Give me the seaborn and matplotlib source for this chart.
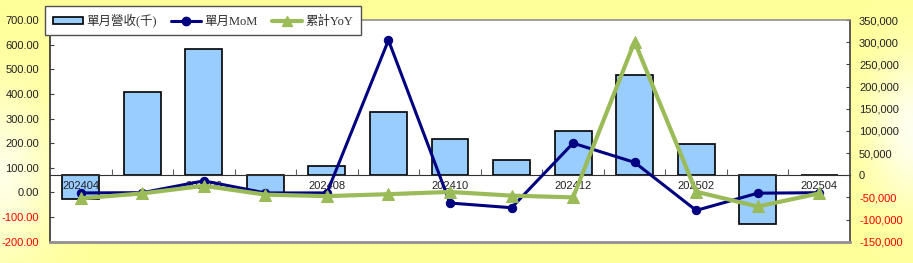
import numpy as np
import pandas as pd
import matplotlib
matplotlib.use("Agg")
import matplotlib.pyplot as plt
import seaborn as sns
from matplotlib.lines import Line2D
from matplotlib.patches import Patch
from matplotlib.ticker import FixedLocator, FixedFormatter, NullFormatter

# ---------------- data ----------------
months = ["202404", "202405", "202406", "202407", "202408", "202409", "202410",
          "202411", "202412", "202501", "202502", "202503", "202504"]
revenue = [-54000, 188000, 284500, -41000, 19600, 143500, 81000,
           33800, 100000, 226000, 69800, -111000, 0]
mom = [-2, -1, 47, -2, -2, 618, -43, -62, 200, 122, -73, -3, -1]
yoy = [-24, -4, 27, -9, -15, -7, 2, -13, -20, 612, 3, -57, -4]

left_ticks = [-200, -100, 0, 100, 200, 300, 400, 500, 600, 700]
right_ticks = [-150000, -100000, -50000, 0, 50000, 100000, 150000,
               200000, 250000, 300000, 350000]
legend_labels = ["單月營收(千)", "單月MoM", "累計YoY"]

df = pd.DataFrame({"pos": range(len(months)), "month": months,
                   "revenue": revenue, "mom": mom, "yoy": yoy})

# ---------------- style ----------------
sns.set_style("white")
plt.rcParams["font.family"] = ["Liberation Sans", "Noto Sans CJK TC", "DejaVu Sans"]

BAR = "#99CCFF"
NAVY = "#000080"
GREEN = "#9BBB59"
TXT = "#222222"
RED = "#FF0000"

W, H = 913, 263
fig = plt.figure(figsize=(W / 100, H / 100), dpi=100)
fig.patch.set_facecolor("#FFFF99")

# background gradient (yellow with whitish glow at the left/right edges)
bg = fig.add_axes([0, 0, 1, 1], zorder=-10)
yy, xx = np.mgrid[0:H, 0:W]
w = 0.75 * np.exp(-(xx / 55.0) ** 2) * np.exp(-((yy - 175) / 85.0) ** 2) \
    + 0.85 * np.exp(-((W - xx) / 45.0) ** 2) * np.exp(-((yy - 130) / 75.0) ** 2)
w = np.clip(w, 0, 1)
yellow = np.array([255, 255, 153]) / 255.0
img = yellow[None, None, :] * (1 - w[..., None]) + np.ones(3)[None, None, :] * w[..., None]
bg.imshow(img, aspect="auto", extent=(0, W, H, 0))
bg.axis("off")

L, R, T, B = 50, 850, 20, 241.7
ax = fig.add_axes([L / W, 1 - B / H, (R - L) / W, (B - T) / H])
ax.set_facecolor("white")

# bars (right axis)
sns.barplot(data=df, x="pos", y="revenue", ax=ax, color=BAR, saturation=1,
            edgecolor="black", linewidth=1.2, width=0.6)
ax.set_xlim(-0.5, len(months) - 0.5)
ax.set_ylim(right_ticks[0], right_ticks[-1])
ax.set_axisbelow(False)

ax2 = ax.twinx()
sns.lineplot(data=df, x="pos", y="mom", ax=ax2, color=NAVY, marker="o",
             markersize=6, markeredgecolor=NAVY, linewidth=2.2)
sns.lineplot(data=df, x="pos", y="yoy", ax=ax2, color=GREEN, marker="^",
             markersize=8, markeredgecolor=GREEN, linewidth=3)
ax2.set_ylim(left_ticks[0], left_ticks[-1])
ax2.set_xlim(-0.5, len(months) - 0.5)

# axes placement
ax.yaxis.tick_right()
ax2.yaxis.tick_left()
for a in (ax, ax2):
    a.set_xlabel("")
    a.set_ylabel("")

# right axis ticks
ax.yaxis.set_major_locator(FixedLocator(right_ticks))
ax.set_yticklabels([f"{v:,}" for v in right_ticks])
for lab, v in zip(ax.get_yticklabels(), right_ticks):
    lab.set_color(RED if v < 0 else TXT)
ax.tick_params(axis="y", which="major", direction="in", length=3, width=0.8,
               color="#404040", labelsize=8, pad=6.5, right=True, left=False)

# left axis ticks
ax2.yaxis.set_major_locator(FixedLocator(left_ticks))
ax2.set_yticklabels([f"{v:.2f}" for v in left_ticks])
for lab, v in zip(ax2.get_yticklabels(), left_ticks):
    lab.set_color(RED if v < 0 else TXT)
ax2.tick_params(axis="y", which="major", direction="in", length=3, width=0.8,
                color="#404040", labelsize=8, pad=8, left=True, right=False)

# category axis on the zero line of the right axis
ax.spines["bottom"].set_position(("data", 0))
ax.spines["bottom"].set_color("#303030")
ax.spines["bottom"].set_linewidth(0.8)
ax.xaxis.set_major_locator(FixedLocator([p + 0.5 for p in df["pos"][:-1]]))
ax.xaxis.set_major_formatter(NullFormatter())
ax.xaxis.set_minor_locator(FixedLocator(list(df["pos"][::2])))
ax.xaxis.set_minor_formatter(FixedFormatter(list(df["month"][::2])))
ax.tick_params(axis="x", which="major", direction="in", length=4, width=0.8,
               color="#606060", bottom=True)
ax.tick_params(axis="x", which="minor", length=0, labelsize=8, pad=4,
               labelcolor=TXT, bottom=True)

# spines
ax.spines["left"].set_visible(False)
ax.spines["top"].set_visible(False)
ax.spines["right"].set_color("#404040")
ax.spines["right"].set_linewidth(1.2)
ax2.spines["right"].set_visible(False)
ax2.spines["left"].set_color("#303030")
ax2.spines["left"].set_linewidth(1.2)
ax2.spines["top"].set_color("#909090")
ax2.spines["top"].set_linewidth(1.2)
ax2.spines["bottom"].set_color("#909090")
ax2.spines["bottom"].set_linewidth(2)

# legend
handles = [
    Patch(facecolor=BAR, edgecolor="black", linewidth=1.2),
    Line2D([], [], color=NAVY, marker="o", markersize=6, linewidth=2.2),
    Line2D([], [], color=GREEN, marker="^", markersize=7, linewidth=3),
]
leg = fig.legend(handles, legend_labels, loc="upper left",
                 bbox_to_anchor=(45 / W, 1 - 6 / H), ncol=3, frameon=True,
                 fancybox=False, framealpha=1, edgecolor="#505050",
                 handlelength=2.4, handleheight=0.5, handletextpad=0.3,
                 columnspacing=1.1, borderpad=0.62, borderaxespad=0,
                 prop={"family": ["Liberation Serif", "Noto Sans CJK TC"], "size": 9})
leg.get_frame().set_linewidth(1.0)
for t in leg.get_texts():
    t.set_color("#303030")

fig.savefig("out.png", dpi=100)
